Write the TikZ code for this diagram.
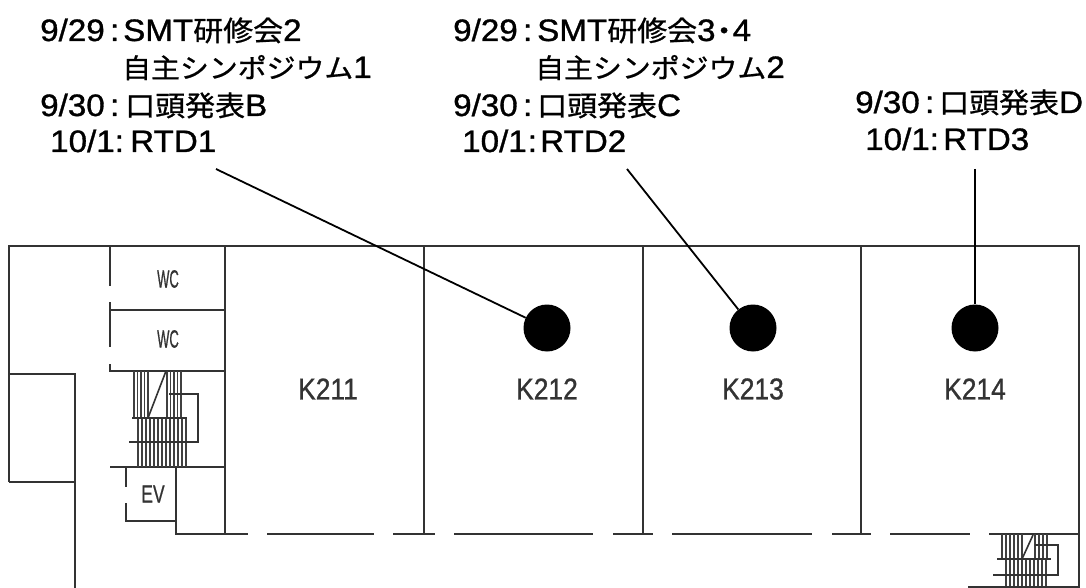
\documentclass[tikz,border=0pt]{standalone}
\usepackage{fontspec}
\setmainfont{Liberation Sans}[RawFeature={embolden=1}]
\newfontfamily\jp{Noto Sans CJK JP}[RawFeature={embolden=0.8}]
\newcommand{\ja}[1]{{\jp\fontsize{28}{32}\selectfont #1}}
\newcommand{\ka}[1]{{\jp\fontsize{27}{32}\selectfont #1}}
\tikzset{
	wall/.style={draw=black!80,line width=2pt},
	thin wall/.style={draw=black!80,line width=1.6pt},
	tread/.style={draw=black!75,line width=1.1pt},
	lbl/.style={anchor=base west,inner sep=0pt,font=\fontsize{31}{34}\selectfont,xscale=1.07,transform shape},
	room/.style={inner sep=0pt,text=black!80,font=\fontsize{30}{33}\selectfont,xscale=.88,transform shape},
	small/.style={inner sep=0pt,text=black!80,font=\fontsize{25}{27}\selectfont,transform shape},
	spot/.style={circle,fill=black,inner sep=0pt,minimum size=47pt}
}
\begin{document}
\begin{tikzpicture}[x=1pt,y=-1pt]
	\useasboundingbox (0,0) rectangle (1086,588);
	% Outer walls
	\draw[wall] (9,482) -- (9,246) -- (1079,246) -- (1079,588);
	\draw[wall] (9,374) -- (75,374) -- (75,588);
	\draw[wall] (9,482) -- (75,482);
	
	% Toilets and core
	\draw[wall] (110,246) -- (110,286);
	\draw[wall] (110,302) -- (110,347);
	\draw[wall] (110,364) -- (110,371) -- (225,371);
	\draw[wall] (110,310) -- (225,310);
	\draw[wall] (110,467) -- (225,467);
	\draw[wall] (225,246) -- (225,534);
	\draw[wall] (176,467) -- (176,534) -- (248,534);
	\draw[wall] (126,467) -- (126,487);
	\draw[wall] (126,503) -- (126,521) -- (176,521);
	
	% Left stairs
	\foreach \x in {134,137.5,141,144.5,148,167,170.5,174,177.5,181}
		\draw[tread] (\x,371) -- (\x,418);
	\foreach \x in {138,142,...,186}
		\draw[tread] (\x,418) -- (\x,467);
	\draw[wall] (132,418) -- (187,418);
	\draw[thin wall] (129,442) -- (198,442) -- (198,394) -- (169,394);
	\draw[thin wall] (148,418) -- (166,371);
	
	% Corridor wall
	\foreach \a/\b in {267/374,393/435,454/593,613/653,672/812,832/871,890/970,989/1079}
		\draw[wall] (\a,534) -- (\b,534);
	
	% Room dividers
	\foreach \x in {424,643,861}
		\draw[wall] (\x,246) -- (\x,534);
	
	% Right stairs
	\foreach \x in {1002,1006,1010,1014,1018,1022,1035,1039,1043,1047}
		\draw[tread] (\x,534) -- (\x,559);
	\foreach \x in {1006,1010,...,1047}
		\draw[tread] (\x,559) -- (\x,587);
	\draw[thin wall] (997,559) -- (1051,559);
	\draw[thin wall] (993,575) -- (1058,575) -- (1058,545) -- (1035,545);
	\draw[thin wall] (1022,559) -- (1033,535);
	\draw[thin wall] (968,587) -- (1079,587);
	
	% Room names
	\node[room] (k211) at (328,389) {K211};
	\node[room] (k212) at (547,389) {K212};
	\node[room] (k213) at (753,389) {K213};
	\node[room] (k214) at (975,389) {K214};
	\node[small,xscale=.52] (wc1) at (168,279) {WC};
	\node[small,xscale=.52] (wc2) at (168,339) {WC};
	\node[small,xscale=.7] (ev) at (153,494) {EV};
	
	% Session spots
	\node[spot] (spot212) at (547,328) {};
	\node[spot] (spot213) at (753,328) {};
	\node[spot] (spot214) at (975,328) {};
	
	% First schedule
	\node[lbl] (d1a) at (40,41) {9/29\hspace{5pt}:};
	\node[lbl] (t1a) at (123,41) {SMT\ja{研修会}2};
	\node[lbl] (t1b) at (122,78) {\ka{自主シンポジウム}1};
	\node[lbl] (d1c) at (40,116) {9/30\hspace{5pt}:};
	\node[lbl] (t1c) at (125,116) {\ja{口頭発表}B};
	\node[lbl] (d1d) at (50,152) {10/1\hspace{0pt}:};
	\node[lbl] (t1d) at (130,152) {RTD1};
	
	% Second schedule
	\node[lbl] (d2a) at (453,41) {9/29\hspace{5pt}:};
	\node[lbl] (t2a) at (537,41) {SMT\ja{研修会}3\hspace{-6pt}\ja{・}\hspace{-6pt}4};
	\node[lbl] (t2b) at (535,78) {\ka{自主シンポジウム}2};
	\node[lbl] (d2c) at (453,116) {9/30\hspace{5pt}:};
	\node[lbl] (t2c) at (537,116) {\ja{口頭発表}C};
	\node[lbl] (d2d) at (462,152) {10/1\hspace{1pt}:};
	\node[lbl] (t2d) at (540,152) {RTD2};
	
	% Third schedule
	\node[lbl] (d3c) at (855,113) {9/30\hspace{5pt}:};
	\node[lbl] (t3c) at (939,113) {\ja{口頭発表}D};
	\node[lbl] (d3d) at (865,150) {10/1\hspace{0pt}:};
	\node[lbl] (t3d) at (943,150) {RTD3};
	
	% Leader lines
	\coordinate (lead212) at (216,169);
	\coordinate (lead213) at (627,169);
	\coordinate (lead214) at (975,169);
	\draw[line width=1.8pt] (lead212) -- (spot212);
	\draw[line width=1.8pt] (lead213) -- (spot213);
	\draw[line width=1.8pt] (lead214) -- (spot214);
\end{tikzpicture}
\end{document}
